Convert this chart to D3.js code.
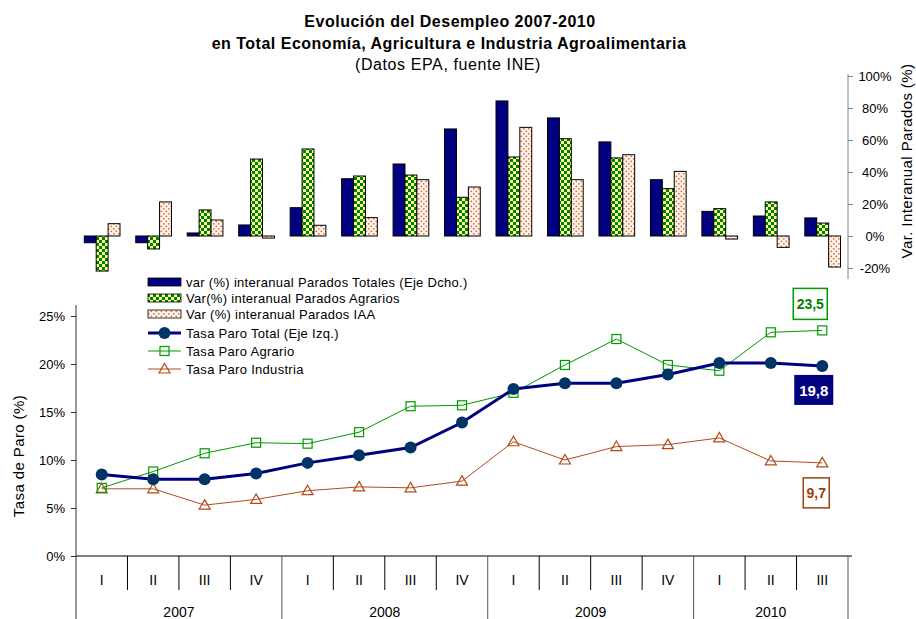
<!DOCTYPE html>
<html>
<head>
<meta charset="utf-8">
<script src="https://cdn.jsdelivr.net/npm/d3@7"></script>
<style>
body { margin: 0; background: #fff; }
svg { font-family: "Liberation Sans", Arial, sans-serif; }
</style>
</head>
<body>
<div id="chart"></div>
<script>
// datos EPA (INE), trimestres 2007 I - 2010 III
var quarters = ["I","II","III","IV","I","II","III","IV","I","II","III","IV","I","II","III"];
var years = ["2007","2008","2009","2010"];

// variacion interanual parados (%), eje derecho
var varTotales  = [-4.2, -4.2, 1.9, 6.9, 17.7, 35.8, 45.0, 66.9, 84.4, 73.8, 58.8, 35.2, 15.4, 12.5, 11.3];
var varAgrarios = [-21.9, -8.1, 16.3, 48.1, 54.4, 37.5, 38.1, 24.2, 49.4, 60.8, 48.8, 29.6, 17.1, 21.3, 8.1];
var varIAA      = [7.7, 21.3, 10.0, -1.3, 6.7, 11.5, 35.2, 30.6, 67.9, 35.2, 50.8, 40.4, -1.9, -7.1, -19.4];

// tasa de paro (%), eje izquierdo
var tasaTotal     = [8.5, 8.0, 8.0, 8.6, 9.7, 10.5, 11.3, 13.9, 17.4, 18.0, 18.0, 18.9, 20.1, 20.1, 19.8];
var tasaAgrario   = [7.1, 8.8, 10.7, 11.8, 11.7, 12.9, 15.6, 15.7, 17.0, 19.9, 22.6, 19.9, 19.3, 23.3, 23.5];
var tasaIndustria = [7.0, 7.0, 5.3, 5.9, 6.8, 7.2, 7.1, 7.8, 11.9, 10.0, 11.4, 11.6, 12.3, 9.9, 9.7];

var leftTicks = [0, 5, 10, 15, 20, 25];
var rightTicks = [-20, 0, 20, 40, 60, 80, 100];

var barSeries = [
    {name: "var (%) interanual Parados Totales (Eje Dcho.)", values: varTotales, fill: "#000080"},
    {name: "Var(%) interanual Parados Agrarios", values: varAgrarios, fill: "url(#pAgr)"},
    {name: "Var (%) interanual Parados IAA", values: varIAA, fill: "url(#pIaa)"}
];
var lineSeries = [
    {name: "Tasa Paro Total (Eje Izq.)", values: tasaTotal, color: "#000080", width: 3, marker: "circle"},
    {name: "Tasa Paro Agrario", values: tasaAgrario, color: "#009900", width: 1, marker: "square"},
    {name: "Tasa Paro Industria", values: tasaIndustria, color: "#B24A1A", width: 1, marker: "triangle"}
];

var width = 916, height = 619;
var svg = d3.select("#chart").append("svg").attr("width", width).attr("height", height);

var defs = svg.append("defs");
let pa = defs.append("pattern").attr("id","pAgr").attr("patternUnits","userSpaceOnUse").attr("width",6).attr("height",6);
pa.append("rect").attr("width",6).attr("height",6).attr("fill","#008000");
pa.append("rect").attr("x",0).attr("y",0).attr("width",3).attr("height",3).attr("fill","#FFFF99");
pa.append("rect").attr("x",3).attr("y",3).attr("width",3).attr("height",3).attr("fill","#FFFF99");
let pi = defs.append("pattern").attr("id","pIaa").attr("patternUnits","userSpaceOnUse").attr("width",5).attr("height",5);
pi.append("rect").attr("width",5).attr("height",5).attr("fill","#FFF4EC");
pi.append("circle").attr("cx",1.3).attr("cy",1.3).attr("r",0.9).attr("fill","#E06A30");
pi.append("circle").attr("cx",3.8).attr("cy",3.8).attr("r",0.9).attr("fill","#E06A30");

// escalas
var idx = d3.range(quarters.length);
var x = d3.scaleBand().domain(idx).range([76, 848]).padding(0);
var bw = x.bandwidth();
var x1 = d3.scaleBand().domain(d3.range(barSeries.length)).range([bw * 0.161, bw * 0.855]).padding(0);
var yL = d3.scaleLinear().domain([0, 25]).range([556, 316]);
var yR = d3.scaleLinear().domain([-20, 100]).range([268, 76]);

// titulo
var gT = svg.append("g").attr("text-anchor","middle").style("font-size","16px").style("letter-spacing","0.5px");
gT.append("text").attr("x", 450).attr("y", 27).style("font-weight","bold").text("Evolución del Desempleo 2007-2010");
gT.append("text").attr("x", 449).attr("y", 49).style("font-weight","bold").text("en Total Economía, Agricultura e Industria Agroalimentaria");
gT.append("text").attr("x", 448).attr("y", 70).style("letter-spacing","0.6px").text("(Datos EPA, fuente INE)");

// barras
for (let s = 0; s < barSeries.length; s++) {
    svg.append("g").selectAll("rect")
        .data(barSeries[s].values)
        .enter()
        .append("rect")
        .attr("x", function (d, i) { return x(i) + x1(s); })
        .attr("y", function (d) { return yR(Math.max(d, 0)); })
        .attr("width", x1.bandwidth())
        .attr("height", function (d) { return Math.abs(yR(d) - yR(0)); })
        .style("fill", barSeries[s].fill)
        .style("stroke", "#000")
        .style("stroke-width", 1);
}

// eje derecho
let gR = svg.append("g").attr("transform","translate(848,0)")
    .call(d3.axisRight(yR).tickValues(rightTicks).tickSize(5).tickFormat(function (d) { return d + "%"; }));
gR.select(".domain").remove();
gR.append("line").attr("x1",0).attr("x2",0).attr("y1",74).attr("y2",279).attr("stroke","#808080");
gR.selectAll(".tick line").attr("stroke","#808080");
gR.selectAll(".tick text").attr("x", 27).attr("text-anchor","middle")
    .style("font-size","13px").style("font-family","Liberation Sans, Arial, sans-serif").attr("fill","#000");
svg.append("text").attr("transform","translate(912,161) rotate(-90)").attr("text-anchor","middle")
    .style("font-size","15px").style("letter-spacing","0.4px").text("Var. Interanual Parados (%)");

// eje izquierdo
let gL = svg.append("g").attr("transform","translate(76,0)")
    .call(d3.axisLeft(yL).tickValues(leftTicks).tickSize(5).tickPadding(6).tickFormat(function (d) { return d + "%"; }));
gL.select(".domain").remove();
gL.append("line").attr("x1",0).attr("x2",0).attr("y1",305).attr("y2",619).attr("stroke","#333");
gL.selectAll(".tick line").attr("stroke","#333");
gL.selectAll(".tick text").style("font-size","13px").style("font-family","Liberation Sans, Arial, sans-serif").attr("fill","#000");
svg.append("text").attr("transform","translate(24,456) rotate(-90)").attr("text-anchor","middle")
    .style("font-size","15px").style("letter-spacing","0.4px").text("Tasa de Paro (%)");

// eje x: trimestres y años
svg.append("line").attr("x1",76).attr("x2",852).attr("y1",556).attr("y2",556).attr("stroke","#000");
svg.append("g").selectAll("line")
    .data(d3.range(1, quarters.length + 1))
    .enter()
    .append("line")
    .attr("x1", function (i) { return i < quarters.length ? x(i) : x(i - 1) + bw; })
    .attr("x2", function (i) { return i < quarters.length ? x(i) : x(i - 1) + bw; })
    .attr("y1", 556)
    .attr("y2", function (i) { return (i % 4 == 0 || i == quarters.length) ? 619 : 590; })
    .attr("stroke", function (i) { return (i % 4 == 0 || i == quarters.length) ? "#555" : "#000"; });
svg.append("g").selectAll("text")
    .data(quarters)
    .enter()
    .append("text")
    .attr("x", function (d, i) { return x(i) + bw / 2; })
    .attr("y", 585)
    .attr("text-anchor","middle")
    .style("font-size","14px")
    .text(function (d) { return d; });
svg.append("g").selectAll("text")
    .data(years)
    .enter()
    .append("text")
    .attr("x", function (d, j) {
        let a = x(j * 4), b = x(Math.min(j * 4 + 3, quarters.length - 1)) + bw;
        return (a + b) / 2;
    })
    .attr("y", 617)
    .attr("text-anchor","middle")
    .style("font-size","14px")
    .text(function (d) { return d; });

// lineas
function drawMarker(g, type, cx, cy, color) {
    if (type == "circle")
        g.append("circle").attr("cx",cx).attr("cy",cy).attr("r",6).attr("fill","#003366");
    else if (type == "square")
        g.append("rect").attr("x",cx-4.5).attr("y",cy-4.5).attr("width",9).attr("height",9)
            .attr("fill","none").attr("stroke",color).attr("stroke-width",1.2);
    else
        g.append("path").attr("d","M" + cx + "," + (cy-5.5) + "L" + (cx+5.5) + "," + (cy+4) + "L" + (cx-5.5) + "," + (cy+4) + "Z")
            .attr("fill","none").attr("stroke",color).attr("stroke-width",1.2);
}

var line = d3.line()
    .x(function (d, i) { return x(i) + bw / 2; })
    .y(function (d) { return yL(d); });

for (let s = lineSeries.length - 1; s >= 0; s--) {
    let ls = lineSeries[s];
    let g = svg.append("g");
    g.append("path").attr("d", line(ls.values)).attr("fill","none")
        .attr("stroke", ls.color).attr("stroke-width", ls.width);
    for (let i = 0; i < ls.values.length; i++)
        drawMarker(g, ls.marker, x(i) + bw / 2, yL(ls.values[i]), ls.color);
}

// etiquetas del ultimo trimestre
var last = quarters.length - 1;
var fmt = function (v) { return d3.format(".1f")(v).replace(".", ","); };
var lx = x(last) + bw / 2;
var gLab = svg.append("g").style("font-weight","bold");
gLab.append("rect").attr("x", lx - 29).attr("y", yL(tasaAgrario[last]) - 42).attr("width",34).attr("height",31)
    .attr("fill","#fff").attr("stroke","#009900").attr("stroke-width",1.5);
gLab.append("text").attr("x", lx - 12).attr("y", yL(tasaAgrario[last]) - 21).attr("text-anchor","middle")
    .attr("fill","#008000").style("font-size","14px").text(fmt(tasaAgrario[last]));
gLab.append("rect").attr("x", lx - 28).attr("y", yL(tasaTotal[last]) + 9).attr("width",39).attr("height",30)
    .attr("fill","#000080");
gLab.append("text").attr("x", lx - 8.5).attr("y", yL(tasaTotal[last]) + 30).attr("text-anchor","middle")
    .attr("fill","#fff").style("font-size","15px").text(fmt(tasaTotal[last]));
gLab.append("rect").attr("x", lx - 19).attr("y", yL(tasaIndustria[last]) + 15).attr("width",26).attr("height",30)
    .attr("fill","#fff").attr("stroke","#A0400A").attr("stroke-width",1.5);
gLab.append("text").attr("x", lx - 6).attr("y", yL(tasaIndustria[last]) + 35).attr("text-anchor","middle")
    .attr("fill","#A0400A").style("font-size","14px").text(fmt(tasaIndustria[last]));

// leyenda
var leg = svg.append("g").style("font-size","13px").style("letter-spacing","0.3px");
var legY = [282, 298, 314, 333, 351, 369];
barSeries.forEach(function (s, k) {
    leg.append("rect").attr("x",148).attr("y",legY[k] - 4).attr("width",33).attr("height",8)
        .attr("fill", s.fill).attr("stroke","#000").attr("stroke-width",0.8);
    leg.append("text").attr("x",186).attr("y",legY[k] + 4.5).text(s.name);
});
lineSeries.forEach(function (s, k) {
    let yy = legY[k + 3];
    leg.append("line").attr("x1",148).attr("x2",181).attr("y1",yy).attr("y2",yy)
        .attr("stroke", s.color).attr("stroke-width", s.width);
    drawMarker(leg, s.marker, 164.5, yy, s.color);
    leg.append("text").attr("x",186).attr("y",yy + 4.5).text(s.name);
});
</script>
</body>
</html>
